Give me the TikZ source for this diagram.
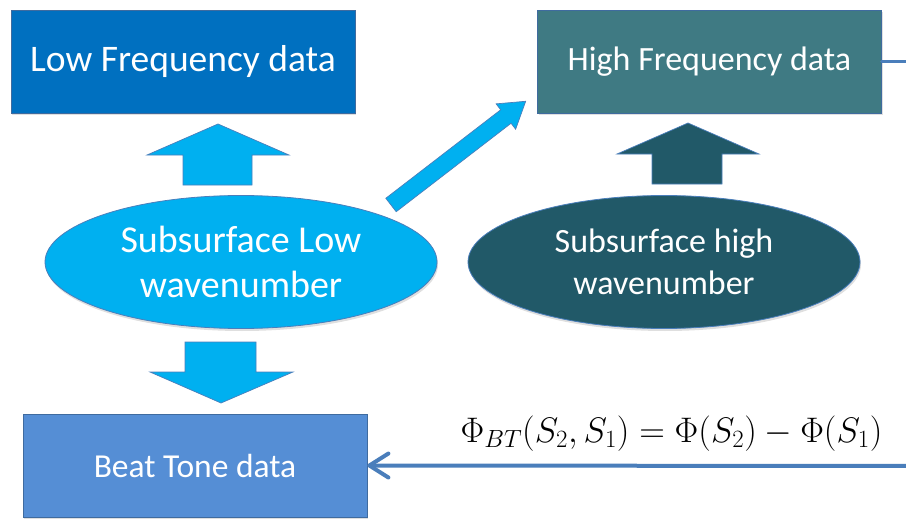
\RequirePackage{fix-cm}
\documentclass[tikz,border=0pt]{standalone}
\usepackage[no-math]{fontspec}
\setmainfont{Carlito}
\usetikzlibrary{shapes.geometric,arrows.meta,shadows}

\definecolor{lowblue}{HTML}{0070C0}
\definecolor{highteal}{HTML}{3F7A83}
\definecolor{darkteal}{HTML}{215968}
\definecolor{skyblue}{HTML}{00B0F0}
\definecolor{beatblue}{HTML}{558ED5}
\definecolor{linkblue}{HTML}{4A7EBB}

\tikzset{
  softshadow/.style={drop shadow={shadow xshift=1pt, shadow yshift=-2.5pt, opacity=.25}},
  databox/.style={draw=linkblue!85!black, line width=0.8pt, text=white, inner sep=0pt,
    minimum width=344pt, minimum height=103pt, softshadow},
  wave/.style={ellipse, draw=linkblue, line width=0.8pt, text=white, inner sep=0pt,
    minimum width=392pt, minimum height=133pt, align=center, softshadow},
  fatarrow/.style={draw=linkblue, line width=0.7pt},
  link/.style={linkblue, line width=4pt, line cap=round},
}

\begin{document}
\begin{tikzpicture}[x=1pt, y=-1pt]
  \useasboundingbox (0,0) rectangle (906,519);

  \node[databox, fill=lowblue, font=\fontsize{37.5}{45}\selectfont] (lowdata) at (183,61.5) {Low Frequency data};
  \node[databox, fill=highteal, font=\fontsize{34}{41}\selectfont] (highdata) at (709.5,61.5) {High Frequency data};
  \node[databox, fill=beatblue, font=\fontsize{33.5}{40}\selectfont] (beatdata) at (195,465.5) {Beat Tone data};

  \node[wave, fill=skyblue, font=\fontsize{38}{45}\selectfont] (lowwave) at (241,262) {Subsurface Low\\wavenumber};
  \node[wave, fill=darkteal, font=\fontsize{34}{42}\selectfont] (highwave) at (664,262) {Subsurface high\\wavenumber};

  \node[anchor=base, font=\fontsize{35.5}{42}\selectfont] (phase) at (671.5,442)
    {$\Phi_{BT}(S_2,S_1)=\Phi(S_2)-\Phi(S_1)$};

  % block arrows
  \draw[fatarrow, fill=skyblue] (183,185) -- (183,155) -- (147,155) -- (218,124)
    -- (289,155) -- (252,155) -- (252,185) -- cycle;
  \draw[fatarrow, fill=darkteal] (652,184) -- (652,154) -- (617,154) -- (688,123)
    -- (759,154) -- (722,154) -- (722,184) -- cycle;
  \draw[fatarrow, fill=skyblue] (185,342) -- (256,342) -- (256,372) -- (293,372)
    -- (221,403) -- (150,372) -- (185,372) -- cycle;
  \begin{scope}[shift={(391,205)}, rotate=37.6]
    \draw[fatarrow, fill=skyblue] (0,-8.5) -- (145,-8.5) -- (145,-16) -- (170,0)
      -- (145,16) -- (145,8.5) -- (0,8.5) -- cycle;
  \end{scope}

  \coordinate (hfout) at (912,61.5);
  \coordinate (btsource) at (912,466);
  \draw[link, line width=3.5pt] (highdata.east) -- (hfout);
  \draw[link, -{Straight Barb[round, length=19pt, width=24pt]}] (btsource) -- (beatdata.east);

\end{tikzpicture}
\end{document}
